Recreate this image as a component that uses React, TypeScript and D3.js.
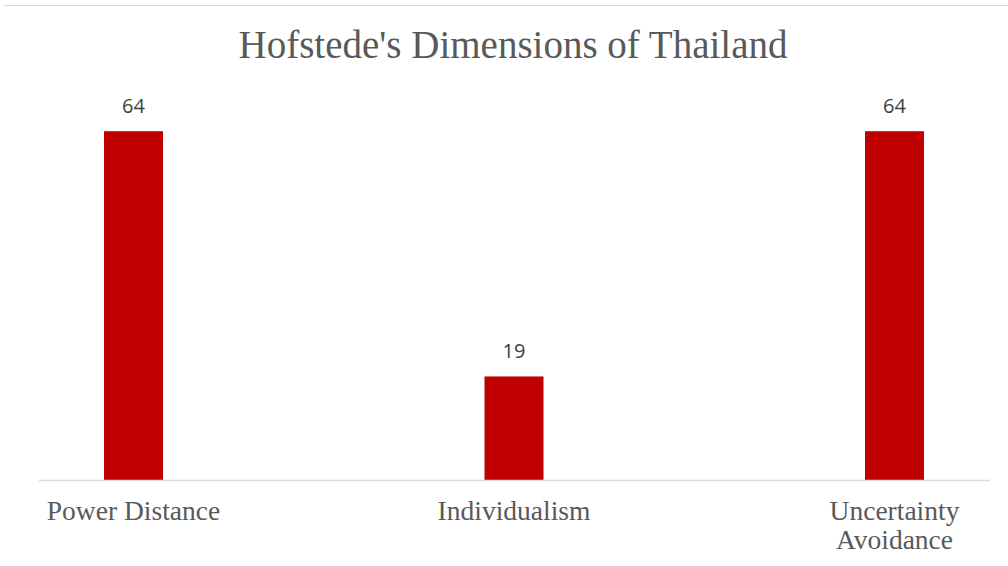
import React from "react";
import * as d3 from "d3";

const categories: string[][] = [["Power Distance"], ["Individualism"], ["Uncertainty", "Avoidance"]];
const values: number[] = [64, 19, 64];
const title = "Hofstede's Dimensions of Thailand";

export default function App() {
  const W = 1008, H = 566;
  const x = d3.scalePoint<number>().domain(d3.range(values.length)).range([133.5, 894.5]);
  const y = d3.scaleLinear().domain([0, 70]).range([480, 98.5]);
  const bw = 59;
  const serif = "'Liberation Serif', 'Times New Roman', serif";
  const sans = "'Open Sans', 'Liberation Sans', sans-serif";
  return (
    <div style={{ position: "absolute", left: 0, top: 0 }}>
      <svg width={W} height={H} style={{ display: "block", background: "#fff" }}>
        <line x1={4} x2={W} y1={5.5} y2={5.5} stroke="#d9d9d9" strokeWidth={1} />
        <text x={513} y={58} textAnchor="middle" fontFamily={serif} fontSize={39} fill="#595959">{title}</text>
        {values.map((v, i) => (
          <g key={i}>
            <rect x={x(i)! - bw / 2} y={y(v)} width={bw} height={y(0) - y(v)} fill="#c00000" />
            <text x={x(i)!} y={y(v) - 18} textAnchor="middle" fontFamily={sans} fontSize={20} fill="#404040">{v}</text>
          </g>
        ))}
        <line x1={39} x2={990} y1={480.5} y2={480.5} stroke="#d9d9d9" strokeWidth={1.5} />
        {categories.map((lines, i) => (
          <text key={i} x={x(i)!} y={520} textAnchor="middle" fontFamily={serif} fontSize={27.5} fill="#595959">
            {lines.map((l, j) => (
              <tspan key={j} x={x(i)!} dy={j === 0 ? 0 : 28.5}>{l}</tspan>
            ))}
          </text>
        ))}
      </svg>
    </div>
  );
}
